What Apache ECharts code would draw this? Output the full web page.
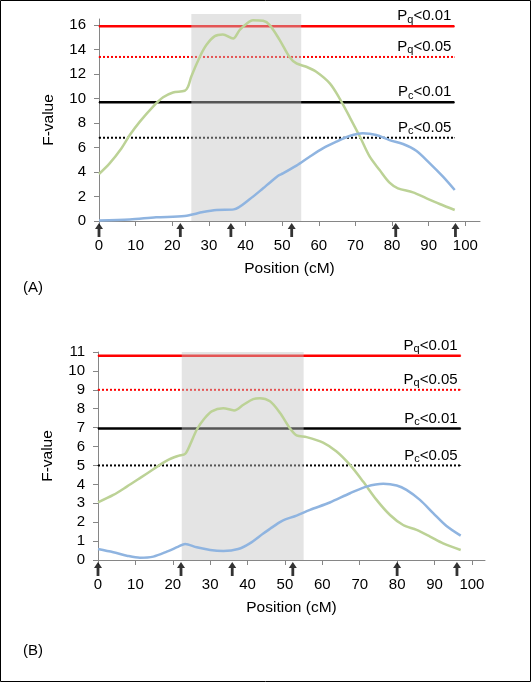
<!DOCTYPE html>
<html>
<head>
<meta charset="utf-8">
<script src="https://cdn.jsdelivr.net/npm/echarts@6/dist/echarts.min.js"></script>
<style>
  html, body { margin: 0; padding: 0; background: #fff; }
  #chart { width: 531px; height: 682px; }
</style>
</head>
<body>
<div id="chart"></div>
<script>
// tick labels
const xTicks = [0, 10, 20, 30, 40, 50, 60, 70, 80, 90, 100]
const yTicksA = [0, 2, 4, 6, 8, 10, 12, 14, 16]
const yTicksB = [0, 1, 2, 3, 4, 5, 6, 7, 8, 9, 10, 11]

// panel A
const greenPosA = [0, 2.9, 6.1, 8.4, 11.1, 14.7, 17.5, 20.2, 23.4, 24.3, 25.2, 27.5, 29.3, 31.6, 33.8, 36.6, 38.4, 40.2, 42.0, 44.8, 46.6, 49.3, 52.0, 53.9, 56.6, 59.3, 63.0, 65.7, 68.4, 71.2, 73.9, 76.6, 79.3, 81.6, 85.7, 89.4, 93.0, 97.1]
const greenValA = [3.84, 4.71, 5.93, 7.02, 8.1, 9.33, 10.1, 10.5, 10.64, 10.97, 11.8, 13.4, 14.37, 15.1, 15.24, 14.9, 15.6, 16.1, 16.4, 16.35, 16.0, 14.8, 13.4, 12.87, 12.6, 12.19, 11.24, 10.0, 8.5, 6.9, 5.25, 4.16, 3.13, 2.67, 2.34, 1.85, 1.39, 0.9]
const bluePosA = [0, 8.4, 15.6, 23.4, 28.4, 32.1, 36.8, 41.1, 44.8, 46.6, 48.9, 50.2, 53.9, 57.5, 61.1, 64.8, 68.4, 72.0, 75.7, 79.3, 83.0, 86.6, 90.3, 93.9, 97.1]
const blueValA = [0.05, 0.13, 0.3, 0.41, 0.73, 0.9, 0.95, 1.77, 2.67, 3.13, 3.7, 3.89, 4.52, 5.25, 5.93, 6.48, 6.94, 7.16, 7.02, 6.61, 6.29, 5.74, 4.71, 3.62, 2.53]
const thresholdsA = [15.9, 13.4, 9.7, 6.8]
const markersA = [0, 22.2, 36.0, 52.6, 81.0, 97.3]
const bandA = [25.2, 55.2]

// panel B
const greenPosB = [0, 4.1, 7.7, 11.2, 14.8, 18.4, 21.5, 23.3, 24.6, 26.4, 28.2, 30.4, 33.5, 36.4, 38.9, 41.5, 43.3, 46.0, 48.7, 51.3, 53.1, 55.8, 60.2, 63.8, 67.4, 70.9, 74.5, 78.1, 81.6, 85.2, 88.8, 92.3, 97.0]
const greenValB = [3.05, 3.44, 3.88, 4.33, 4.8, 5.26, 5.51, 5.61, 6.09, 6.89, 7.42, 7.86, 8.03, 7.91, 8.21, 8.51, 8.56, 8.39, 7.77, 6.97, 6.59, 6.5, 6.21, 5.74, 5.03, 4.15, 3.18, 2.38, 1.85, 1.59, 1.24, 0.88, 0.53]
const bluePosB = [0, 4.1, 7.7, 11.2, 14.8, 18.4, 21.5, 23.3, 26.4, 30.0, 33.5, 37.5, 40.6, 44.2, 46.0, 48.2, 49.5, 53.1, 56.7, 62.0, 67.4, 71.8, 76.3, 79.9, 82.5, 86.1, 89.7, 93.2, 97.0]
const blueValB = [0.58, 0.41, 0.23, 0.12, 0.18, 0.44, 0.71, 0.85, 0.67, 0.53, 0.48, 0.58, 0.88, 1.4, 1.65, 1.95, 2.1, 2.35, 2.65, 3.04, 3.53, 3.88, 4.03, 3.94, 3.71, 3.18, 2.47, 1.8, 1.29]
const thresholdsB = [10.8, 9.0, 6.95, 5.0]
const markersB = [0, 22.2, 35.9, 52.1, 80.0, 96.0]
const bandB = [22.4, 55.0]

// threshold labels (P + subscript + rest)
const thrSub = ['q', 'q', 'c', 'c']
const thrText = ['<0.01', '<0.05', '<0.01', '<0.05']
const thrEnd = 97

const FONT = '"Liberation Sans", Arial, sans-serif'
const GREEN = '#bcd296'
const BLUE = '#8fb4e0'
const thrColors = ['#ff0000', '#ff0000', '#000000', '#000000']
const thrSolid = [true, false, true, false]
const ARROW = 'path://M0,6 L4,0 L8,6 L5.4,6 L5.4,14 L2.6,14 L2.6,6 Z'

const zip = (xs, ys) => xs.map((x, i) => [x, ys[i]])

function thresholdSeries(gi, vals) {
    return vals.map((v, i) => ({
        type: 'line',
        xAxisIndex: gi,
        yAxisIndex: gi,
        z: 1,
        silent: true,
        symbol: 'circle',
        symbolSize: 1,
        showSymbol: true,
        itemStyle: { color: thrColors[i] },
        lineStyle: {
            color: thrColors[i],
            width: thrSolid[i] ? 2.5 : 2,
            type: thrSolid[i] ? 'solid' : [2, 2]
        },
        data: [
            [0, v],
            {
                value: [thrEnd, v],
                label: {
                    show: true,
                    position: 'top',
                    align: 'right',
                    distance: 1,
                    offset: [-3, 0],
                    formatter: '{m|P}{s|' + thrSub[i] + '}{m|' + thrText[i] + '}',
                    rich: {
                        m: { fontSize: 15, fontFamily: FONT, color: '#000', lineHeight: 16, verticalAlign: 'top' },
                        s: { fontSize: 11, fontFamily: FONT, color: '#000', lineHeight: 11, verticalAlign: 'top', padding: [5.5, 0, 0, 0] }
                    }
                }
            }
        ]
    }))
}

function bandSeries(gi, band, yTop) {
    return {
        type: 'custom',
        xAxisIndex: gi,
        yAxisIndex: gi,
        z: 2,
        silent: true,
        clip: false,
        data: [[band[0], band[1], yTop]],
        encode: { x: [0, 1], y: 2 },
        renderItem(params, api) {
            const p0 = api.coord([api.value(0), api.value(2)])
            const p1 = api.coord([api.value(1), 0])
            return {
                type: 'rect',
                shape: { x: p0[0], y: p0[1], width: p1[0] - p0[0], height: p1[1] - p0[1] },
                style: { fill: 'rgba(193,193,193,0.44)' }
            }
        }
    }
}

function curveSeries(gi, xs, ys, color) {
    return {
        type: 'line',
        xAxisIndex: gi,
        yAxisIndex: gi,
        z: 3,
        silent: true,
        symbol: 'none',
        smooth: 0.3,
        clip: false,
        lineStyle: { color: color, width: 2.5 },
        data: zip(xs, ys)
    }
}

function arrowSeries(gi, marks) {
    return {
        type: 'scatter',
        xAxisIndex: gi,
        yAxisIndex: gi,
        z: 5,
        silent: true,
        clip: false,
        symbol: ARROW,
        symbolSize: [8, 14],
        symbolOffset: [0, 9],
        itemStyle: { color: '#000' },
        data: marks.map(m => [m, 0])
    }
}

const axisGray = '#868686'
const textStyle = { fontSize: 15, color: '#000', fontFamily: FONT }

function xAxis(gi, max) {
    return {
        gridIndex: gi,
        type: 'value',
        min: 0,
        max: max,
        interval: 10,
        axisLine: { show: true, onZero: false, lineStyle: { color: axisGray, width: 1 } },
        axisTick: { show: true, length: 5, lineStyle: { color: axisGray }, customValues: xTicks },
        axisLabel: Object.assign({ margin: 17, customValues: xTicks }, textStyle),
        splitLine: { show: false },
        name: 'Position (cM)',
        nameLocation: 'middle',
        nameGap: 40,
        nameTextStyle: { fontSize: 15.5, color: '#000', fontFamily: FONT }
    }
}

function yAxis(gi, max, interval, ticks) {
    return {
        gridIndex: gi,
        type: 'value',
        min: 0,
        max: max,
        interval: interval,
        axisLine: { show: true, lineStyle: { color: axisGray, width: 1 } },
        axisTick: { show: true, length: 5, lineStyle: { color: axisGray }, customValues: ticks },
        axisLabel: Object.assign({ margin: 13, customValues: ticks }, textStyle),
        splitLine: { show: false },
        name: 'F-value',
        nameLocation: 'middle',
        nameRotate: 90,
        nameGap: 42,
        nameTextStyle: { fontSize: 15.5, color: '#000', fontFamily: FONT }
    }
}

const chart = echarts.init(document.getElementById('chart'), null, { renderer: 'canvas' })

chart.setOption({
    animation: false,
    backgroundColor: '#fff',
    grid: [
        { left: 99, top: 19, width: 381, height: 202 },
        { left: 98, top: 352, width: 387, height: 208 }
    ],
    xAxis: [xAxis(0, 104), xAxis(1, 103.5)],
    yAxis: [yAxis(0, 16.5, 2, yTicksA), yAxis(1, 11, 1, yTicksB)],
    graphic: [
        { type: 'rect', shape: { x: 0.5, y: 0.5, width: 530, height: 681 }, style: { fill: 'none', stroke: '#000', lineWidth: 1 }, silent: true },
        { type: 'text', left: 23, top: 280, style: Object.assign({ text: '(A)' }, textStyle), silent: true },
        { type: 'text', left: 23, top: 643, style: Object.assign({ text: '(B)' }, textStyle), silent: true }
    ],
    series: [].concat(
        thresholdSeries(0, thresholdsA),
        [bandSeries(0, bandA, 16.9)],
        [curveSeries(0, greenPosA, greenValA, GREEN), curveSeries(0, bluePosA, blueValA, BLUE)],
        [arrowSeries(0, markersA)],
        thresholdSeries(1, thresholdsB),
        [bandSeries(1, bandB, 11)],
        [curveSeries(1, greenPosB, greenValB, GREEN), curveSeries(1, bluePosB, blueValB, BLUE)],
        [arrowSeries(1, markersB)]
    )
})

window.addEventListener('resize', () => chart.resize())
</script>
</body>
</html>
